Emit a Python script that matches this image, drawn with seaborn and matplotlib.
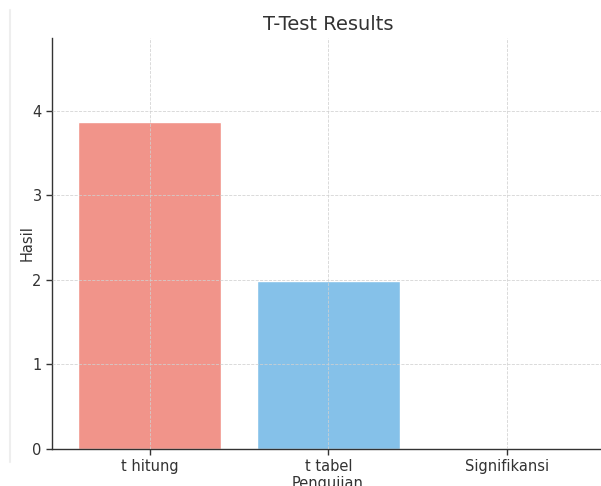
import numpy as np
import pandas as pd
import matplotlib
matplotlib.use("Agg")
import matplotlib.pyplot as plt
import seaborn as sns

# values
categories = ["t hitung", "t tabel", "Signifikansi"]
hasil = [3.87, 1.99, 0.0003]
colors = ["#F1948A", "#85C1E9", "#82E0AA"]

df = pd.DataFrame({"Pengujian": categories, "Hasil": hasil})

sns.set_style("white")
plt.rcParams['font.family'] = ['DejaVu Sans']
plt.rcParams['text.color'] = '#333333'
plt.rcParams['axes.labelcolor'] = '#333333'
plt.rcParams['xtick.color'] = '#333333'
plt.rcParams['ytick.color'] = '#333333'

fig = plt.figure(figsize=(6.01, 4.86), dpi=100)
ax = fig.add_axes([0.0865, 0.0761, 0.918, 0.846])

sns.barplot(data=df, x="Pengujian", y="Hasil", hue="Pengujian",
            palette=colors, width=0.8, saturation=1, legend=False, ax=ax)

ax.set_xlim(-0.547, 2.54)
ax.set_ylim(0, 4.86)
ax.set_yticks([0, 1, 2, 3, 4])
ax.set_axisbelow(False)
ax.grid(True, linestyle='--', linewidth=0.6, color='#d0d0d0', alpha=0.9)

for s in ['top', 'right']:
    ax.spines[s].set_visible(False)
for s in ['left', 'bottom']:
    ax.spines[s].set_color('#333333')
    ax.spines[s].set_linewidth(1.0)
ax.tick_params(axis='both', labelsize=10.5, length=4, width=1, color='#333333', left=True, bottom=True)

ax.set_title("T-Test Results", fontsize=14, pad=6)
ax.set_xlabel("Pengujian", fontsize=10.5, labelpad=1)
ax.set_ylabel("Hasil", fontsize=10.5, labelpad=-2)

# faint border line at the left of the picture
fig.add_artist(plt.Line2D([0.017, 0.017], [0.05, 0.98], color='#eeeeee', linewidth=1.5))

fig.savefig("out.png", dpi=100)
